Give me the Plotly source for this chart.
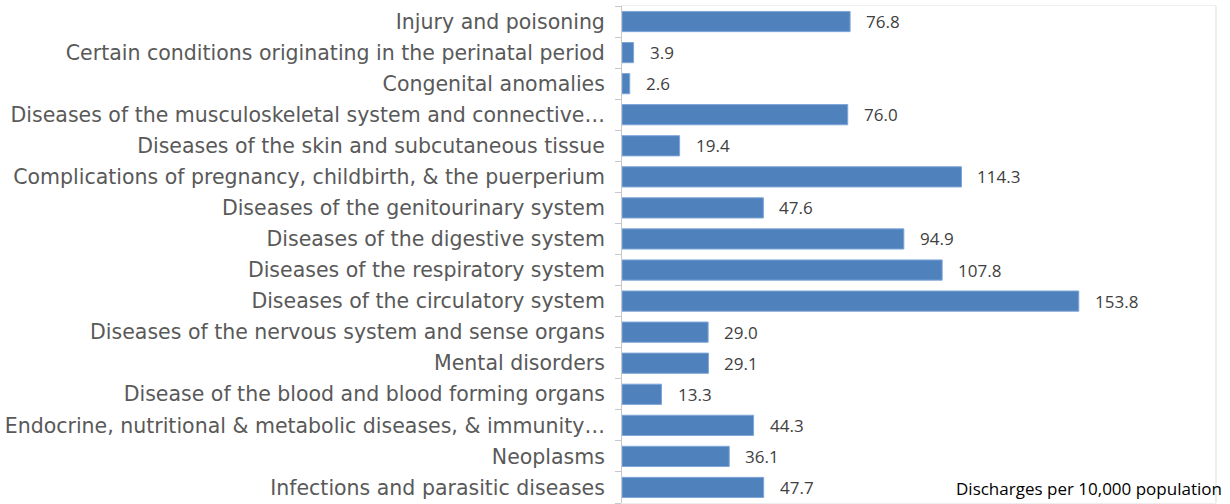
import plotly.graph_objects as go

categories = [
    "Infections and parasitic diseases",
    "Neoplasms",
    "Endocrine, nutritional & metabolic diseases, & immunity…",
    "Disease of the blood and blood forming organs",
    "Mental disorders",
    "Diseases of the nervous system and sense organs",
    "Diseases of the circulatory system",
    "Diseases of the respiratory system",
    "Diseases of the digestive system",
    "Diseases of the genitourinary system",
    "Complications of pregnancy, childbirth, & the puerperium",
    "Diseases of the skin and subcutaneous tissue",
    "Diseases of the musculoskeletal system and connective…",
    "Congenital anomalies",
    "Certain conditions originating in the perinatal period",
    "Injury and poisoning",
]
values = [47.7, 36.1, 44.3, 13.3, 29.1, 29.0, 153.8, 107.8, 94.9, 47.6, 114.3, 19.4, 76.0, 2.6, 3.9, 76.8]
axis_title = "Discharges per 10,000 population"

fig = go.Figure()
fig.add_trace(go.Bar(
    y=categories, x=values, orientation="h",
    marker=dict(color="#4F81BD", line=dict(color="#7EA6D8", width=1)),
    hoverinfo="x+y",
))

annotations = []
for c, v in zip(categories, values):
    annotations.append(dict(
        x=v, y=c, xref="x", yref="y", text=f"{v:.1f}", showarrow=False,
        xanchor="left", xshift=14,
        font=dict(family="Open Sans", size=17, color="#404040"),
    ))
annotations.append(dict(
    x=1.0, y=0.0, xref="paper", yref="paper", text=axis_title, showarrow=False,
    xanchor="right", yanchor="bottom", xshift=8, yshift=1,
    font=dict(family="Open Sans", size=17, color="#000000"),
))

fig.update_layout(
    width=1230, height=504,
    margin=dict(l=622, r=14, t=6, b=1),
    paper_bgcolor="white", plot_bgcolor="white",
    bargap=0.35,
    showlegend=False,
    annotations=annotations,
    xaxis=dict(range=[0, 200], showticklabels=False, showgrid=False, zeroline=False,
               showline=True, linecolor="#EEEEEE", linewidth=1, mirror=True, ticks=""),
    yaxis=dict(type="category", showgrid=False, zeroline=False,
               showline=True, linecolor="#C8C8C8", linewidth=1,
               ticks="outside", tickson="boundaries", ticklen=6, tickcolor="#C8C8C8",
               ticklabelstandoff=12,
               tickfont=dict(family="DejaVu Sans", size=20.5, color="#595959"),
               automargin=False),
    shapes=[dict(type="line", xref="paper", yref="paper", x0=1, x1=1, y0=0, y1=1,
                 line=dict(color="#EEEEEE", width=2))],
)

fig.write_html("out.html", config={"displayModeBar": False},
               post_script="document.body.style.margin='0';")
